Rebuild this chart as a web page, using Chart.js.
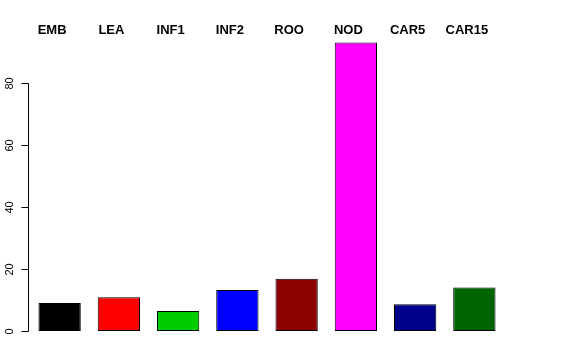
<!DOCTYPE html>
<html>
<head>
<meta charset="utf-8">
<script src="https://cdn.jsdelivr.net/npm/chart.js@4"></script>
<style>
    html, body { margin: 0; padding: 0; background: #fff; }
    #wrap { width: 576px; height: 360px; }
</style>
</head>
<body>
<div id="wrap"><canvas id="barChart" width="576" height="360"></canvas></div>
<script>
// --- Data ---
const categories = ['EMB', 'LEA', 'INF1', 'INF2', 'ROO', 'NOD', 'CAR5', 'CAR15'];
const values = [9.0, 10.9, 6.4, 13.2, 16.8, 93.0, 8.6, 14.0];
const barColors = ['#000000', '#ff0000', '#00cd00', '#0000ff', '#8b0000', '#ff00ff', '#00008b', '#006400'];
const yTicks = [0, 20, 40, 60, 80];

// R-style 4% padding on the value range
const yMax = Math.max(...values);
const yPad = yMax * 0.04;

// --- R-like axis + top labels ---
const rAxisPlugin = {
    id: 'rAxis',
    afterDraw(chart) {
        const { ctx, chartArea, scales } = chart;
        const y = scales.y;
        const x = scales.x;
        const axisX = chartArea.left - 1.5;

        ctx.save();
        ctx.strokeStyle = '#000';
        ctx.lineWidth = 1;

        // axis line from first to last tick
        ctx.beginPath();
        ctx.moveTo(axisX, Math.round(y.getPixelForValue(yTicks[0])) + 0.5);
        ctx.lineTo(axisX, Math.round(y.getPixelForValue(yTicks[yTicks.length - 1])) + 0.5);
        ctx.stroke();

        // tick marks + rotated labels
        ctx.fillStyle = '#000';
        ctx.font = '11px "Liberation Sans", Arial, sans-serif';
        ctx.textAlign = 'center';
        ctx.textBaseline = 'middle';
        yTicks.forEach(t => {
            const py = Math.round(y.getPixelForValue(t)) + 0.5;
            ctx.beginPath();
            ctx.moveTo(axisX - 7, py);
            ctx.lineTo(axisX, py);
            ctx.stroke();
            ctx.save();
            ctx.translate(axisX - 19, py);
            ctx.rotate(-Math.PI / 2);
            ctx.fillText(String(t), 0, 0);
            ctx.restore();
        });

        // category names across the top
        ctx.font = 'bold 13px "Liberation Sans", Arial, sans-serif';
        categories.forEach((c, i) => {
            ctx.fillText(c, x.getPixelForValue(i) - 7.5, 30);
        });
        ctx.restore();
    }
};

new Chart(document.getElementById('barChart'), {
    type: 'bar',
    data: {
        labels: categories,
        datasets: [{
            data: values,
            backgroundColor: barColors,
            borderColor: '#000',
            borderWidth: 1,
            borderSkipped: false,
            barPercentage: 0.714,
            categoryPercentage: 1.0
        }]
    },
    options: {
        responsive: false,
        animation: false,
        events: [],
        layout: { padding: { left: 30, right: 72, top: 31, bottom: 17.5 } },
        plugins: { legend: { display: false }, tooltip: { enabled: false } },
        scales: {
            x: { display: false, offset: true },
            y: { display: false, min: -yPad, max: yMax + yPad }
        }
    },
    plugins: [rAxisPlugin]
});
</script>
</body>
</html>
